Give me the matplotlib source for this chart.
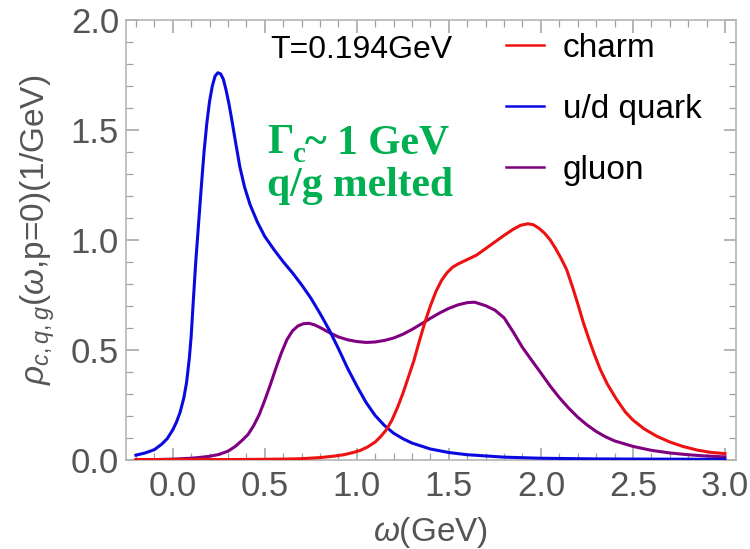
import matplotlib.pyplot as plt
from matplotlib.ticker import MultipleLocator

# values
w_ud = [-0.2, -0.15, -0.1, -0.06, -0.03, 0.0, 0.02, 0.04, 0.06, 0.075, 0.09, 0.1, 0.11,
        0.125, 0.14, 0.155, 0.17, 0.185, 0.2, 0.215, 0.23, 0.245, 0.26, 0.275, 0.29, 0.305,
        0.32, 0.34, 0.365, 0.39, 0.42, 0.46, 0.5, 0.55, 0.6, 0.65, 0.7, 0.75, 0.8, 0.85,
        0.9, 0.95, 1.0, 1.05, 1.1, 1.15, 1.2, 1.25, 1.3, 1.4, 1.5, 1.6, 1.8, 2.0, 2.3, 2.6,
        3.0]
rho_ud = [0.02, 0.03, 0.045, 0.07, 0.095, 0.135, 0.17, 0.215, 0.28, 0.35, 0.46, 0.56, 0.7,
          0.9, 1.07, 1.24, 1.4, 1.53, 1.63, 1.7, 1.745, 1.76, 1.755, 1.73, 1.68, 1.62,
          1.55, 1.45, 1.33, 1.24, 1.16, 1.08, 1.015, 0.955, 0.9, 0.85, 0.795, 0.735, 0.665,
          0.59, 0.505, 0.415, 0.335, 0.26, 0.2, 0.155, 0.12, 0.095, 0.075, 0.048, 0.032,
          0.022, 0.011, 0.006, 0.003, 0.002, 0.001]

w_g = [-0.2, -0.1, 0.0, 0.1, 0.15, 0.2, 0.25, 0.3, 0.34, 0.38, 0.41, 0.44, 0.47, 0.5, 0.53,
       0.56, 0.59, 0.62, 0.65, 0.68, 0.71, 0.74, 0.77, 0.8, 0.85, 0.9, 0.95, 1.0, 1.05,
       1.1, 1.15, 1.2, 1.25, 1.3, 1.35, 1.4, 1.45, 1.5, 1.55, 1.6, 1.64, 1.7, 1.75, 1.8,
       1.85, 1.9, 1.96, 2.0, 2.05, 2.1, 2.15, 2.2, 2.25, 2.3, 2.35, 2.4, 2.5, 2.6, 2.7, 2.8,
       2.9, 3.0]
rho_g = [0.0, 0.0, 0.002, 0.006, 0.01, 0.015, 0.023, 0.038, 0.06, 0.09, 0.115, 0.155, 0.205,
         0.27, 0.34, 0.415, 0.485, 0.545, 0.585, 0.608, 0.618, 0.62, 0.613, 0.601, 0.578,
         0.558, 0.545, 0.537, 0.533, 0.535, 0.542, 0.553, 0.57, 0.592, 0.617, 0.643,
         0.667, 0.688, 0.704, 0.714, 0.716, 0.70, 0.68, 0.645, 0.58, 0.51, 0.44, 0.394,
         0.335, 0.282, 0.235, 0.193, 0.158, 0.128, 0.104, 0.085, 0.06, 0.042, 0.03, 0.022,
         0.016, 0.012]

w_c = [-0.2, 0.3, 0.6, 0.7, 0.8, 0.87, 0.93, 0.98, 1.02, 1.06, 1.1, 1.13, 1.16, 1.19, 1.22,
       1.25, 1.28, 1.31, 1.34, 1.37, 1.4, 1.43, 1.46, 1.49, 1.52, 1.55, 1.6, 1.65, 1.7,
       1.75, 1.8, 1.85, 1.89, 1.93, 1.96, 1.99, 2.02, 2.05, 2.08, 2.11, 2.14, 2.17, 2.2,
       2.23, 2.26, 2.29, 2.32, 2.36, 2.41, 2.46, 2.5, 2.56, 2.63, 2.7, 2.77, 2.85, 2.92, 3.0]
rho_c = [0.0, 0.0, 0.002, 0.004, 0.009, 0.015, 0.022, 0.032, 0.042, 0.058, 0.08, 0.105,
         0.135, 0.178, 0.235, 0.30, 0.375, 0.45, 0.54, 0.625, 0.70, 0.765, 0.815, 0.85,
         0.875, 0.89, 0.91, 0.93, 0.96, 0.99, 1.02, 1.048, 1.066, 1.073, 1.068, 1.052,
         1.03, 1.0, 0.96, 0.915, 0.864, 0.79, 0.71, 0.625, 0.55, 0.48, 0.415, 0.345, 0.275,
         0.215, 0.18, 0.14, 0.106, 0.08, 0.06, 0.043, 0.033, 0.027]

labels = ['charm', 'u/d quark', 'gluon']

plt.rcParams['font.family'] = ['Liberation Sans', 'DejaVu Sans']
plt.rcParams['mathtext.fontset'] = 'custom'
plt.rcParams['mathtext.rm'] = 'Liberation Sans'
plt.rcParams['mathtext.it'] = 'Liberation Sans:italic'

fig = plt.figure(figsize=(7.5, 5.49), dpi=100)
ax = fig.add_axes([126/750, 1-460/549, 610/750, 440/549])

lg, = ax.plot(w_g, rho_g, color='#800080', lw=2.2, zorder=2)
lu, = ax.plot(w_ud, rho_ud, color='#0a0ae0', lw=2.2, zorder=3)
lc, = ax.plot(w_c, rho_c, color='#ee1111', lw=2.2, zorder=4)
for l in (lg, lu, lc):
    l.set_solid_joinstyle('round')

ax.set_xlim(-0.254, 3.06)
ax.set_ylim(-0.002, 2.0)
ax.xaxis.set_major_locator(MultipleLocator(0.5))
ax.xaxis.set_minor_locator(MultipleLocator(0.1))
ax.yaxis.set_major_locator(MultipleLocator(0.5))
ax.yaxis.set_minor_locator(MultipleLocator(0.1))
ax.xaxis.set_major_formatter(lambda v, p: '%.1f' % v)
ax.yaxis.set_major_formatter(lambda v, p: '%.1f' % v)

for s in ax.spines.values():
    s.set_color('#b4b4b4')
    s.set_linewidth(1.2)
ax.tick_params(which='both', direction='in', top=True, right=True, color='#a0a0a0',
               labelcolor='#555555', labelsize=25)
ax.tick_params(which='major', length=9, width=1.1)
ax.tick_params(which='minor', length=5, width=0.9)
ax.tick_params(axis='x', pad=7)
ax.tick_params(axis='y', pad=5)

ax.set_xlabel(r'$\mathit{\omega}$(GeV)', fontsize=24, color='#555555', labelpad=9)
ax.set_ylabel(r'$\mathit{\rho_{c,q,g}(\omega}$,p=0)(1/GeV)', fontsize=24,
              color='#555555')
ax.yaxis.set_label_coords(-0.113, 0.523)

fig.text(270/750, 1-58/549, 'T=0.194GeV', fontsize=23, color='black', va='baseline')

leg = ax.legend([lc, lu, lg], labels, loc='upper left',
                bbox_to_anchor=(506/750, 1-33/549), bbox_transform=fig.transFigure,
                frameon=False, fontsize=24, handlelength=1.15, handletextpad=0.55,
                labelspacing=0.9, borderpad=0, borderaxespad=0)
for h in leg.legend_handles:
    h.set_linewidth(1.8)

green = '#00b050'
gfont = dict(family='Liberation Serif', weight='bold', color=green, va='baseline')
fig.text(267/750, 1-153/549, '\u0393', fontsize=30, **gfont)
fig.text(293/750, 1-162/549, 'c', fontsize=21, **gfont)
fig.text(305/750, 1-153/549, '~ 1 GeV', fontsize=30, **gfont)
fig.text(267/750, 1-196/549, 'q/g melted', fontsize=30, **gfont)

fig.savefig('out.png', dpi=100)
